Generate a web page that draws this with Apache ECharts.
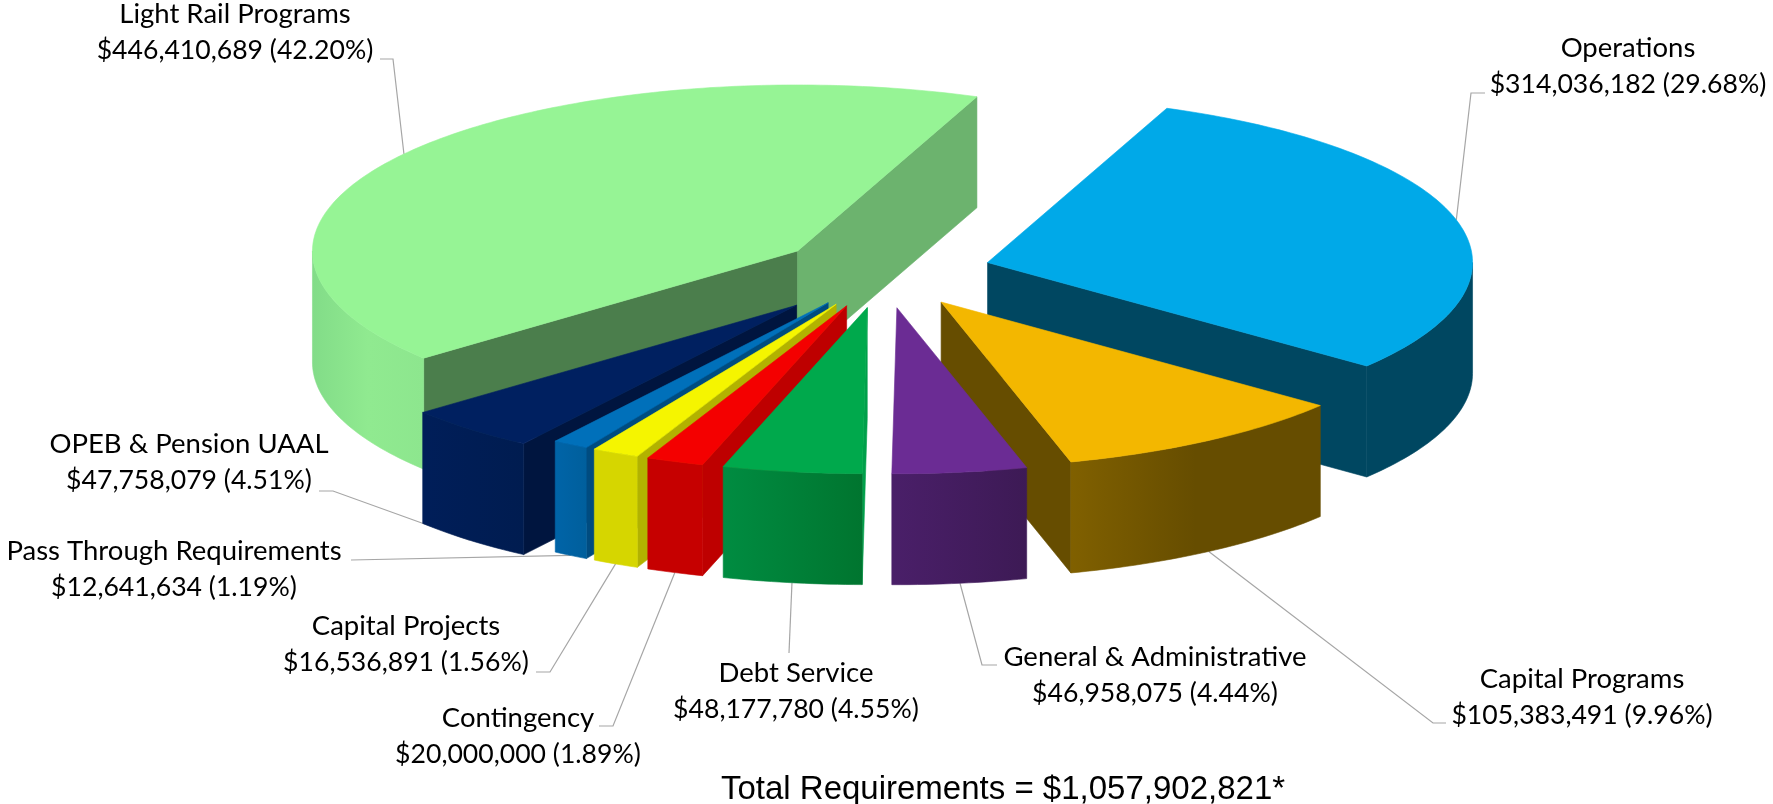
<!DOCTYPE html>
<html>
<head>
<meta charset="utf-8">
<title>Total Requirements</title>
<style>
  html, body { margin: 0; padding: 0; background: #fff; }
  #chart { width: 1773px; height: 804px; }
</style>
<script src="https://cdn.jsdelivr.net/npm/echarts@6/dist/echarts.min.js"></script>
</head>
<body>
<div id="chart"></div>
<script>
// Budget categories, clockwise from the Operations slice.
const categories = [
  'Operations', 'Capital Programs', 'General & Administrative', 'Debt Service',
  'Contingency', 'Capital Projects', 'Pass Through Requirements',
  'OPEB & Pension UAAL', 'Light Rail Programs'
];
const requirements = [
  314036182, 105383491, 46958075, 48177780,
  20000000, 16536891, 12641634,
  47758079, 446410689
];

// Pulled-out distance of each slice, as a fraction of the radius.
const explode = [0.223, 0.217, 0.217, 0.217, 0.217, 0.217, 0.217, 0.268, 0.217];

// Painter's order: back slices first, then the front row from the left.
const paintOrder = [8, 0, 1, 2, 7, 6, 5, 4, 3];

// Face colours per slice.
const topColors = ['#00A9E8', '#F3B700', '#6B2C94', '#00A94C', '#F40000', '#F5F500', '#0070BA', '#002060', '#96F495'];
const wallColors = [
  ['#004761', '#004761'], ['#806000', '#664D00', '#664D00'], ['#4A1F69', '#3D1A55'], ['#008C41', '#00752F'],
  ['#C60000', '#C60000'], ['#D6D600', '#D6D600'], ['#0064A8', '#005F9C'], ['#001E59', '#001C50'],
  ['#82DC88', '#90EA90', '#8DE68E']
];
const startFaceColors = ['#004761', '#664D00', '#4A1F69', '#00A04A', '#BE0000', '#B2B200', '#004C80', '#00153F', '#4B7E4C'];
const endFaceColors = ['#004761', '#664D00', '#4A1F69', '#00A04A', '#BE0000', '#B2B200', '#004C80', '#00153F', '#6CB36E'];

// Pie geometry on the page.
const pieCenter = [883, 272];
const radiusX = 485;
const radiusY = 166;
const depth = 111;
const startAngle = 21.7;
// Slight sideways lean of the near-left rim from the camera's perspective.
const rimLean = { size: 5, around: 212, spread: 30 };

// Label block centres and the bent part of each leader line.
const labelCenters = [
  [1628, 66], [1582, 697], [1155, 675], [796, 691],
  [518, 736], [406, 644], [174, 569], [189, 462], [235, 32]
];
const leaderPaths = [
  [[1471, 93], [1485, 93]], [[1433, 723], [1446, 723]], [[982, 665], [997, 665]], [[789, 653]],
  [[613, 726], [599, 726]], [[550, 672], [536, 672]], [[351, 560]], [[333, 491], [319, 491]], [[393, 59], [380, 59]]
];

const nameFont = '27.5px Lato, Carlito, sans-serif';
const amountFont = '26.6px Lato, Carlito, sans-serif';
const totalRequirements = requirements.reduce((a, b) => a + b, 0);

const money = v => '$' + v.toLocaleString('en-US');
const percent = v => (v / totalRequirements * 100).toFixed(2) + '%';

// Slice angles in degrees, clockwise from the top of the pie.
const spans = [];
requirements.reduce((from, v) => {
  const to = from + v / totalRequirements * 360;
  spans.push([from, to]);
  return to;
}, startAngle);

function onEllipse(origin, deg) {
  const a = deg * Math.PI / 180;
  return [origin[0] + radiusX * Math.sin(a), origin[1] - radiusY * Math.cos(a)];
}

function onRim(apex, deg, drop) {
  const p = onEllipse(apex, deg);
  const t = (deg - rimLean.around) / rimLean.spread;
  return [p[0] - rimLean.size * Math.exp(-t * t), p[1] + (drop || 0)];
}

function apexOf(i) {
  const mid = (spans[i][0] + spans[i][1]) / 2;
  return onEllipse(pieCenter, mid).map((p, k) => pieCenter[k] + (p - pieCenter[k]) * explode[i]);
}

function arcPoints(apex, from, to, drop) {
  const pts = [];
  const steps = Math.max(2, Math.ceil(to - from));
  for (let s = 0; s <= steps; s++) pts.push(onRim(apex, from + (to - from) * s / steps, drop));
  return pts;
}

function polygon(points, fill, z2) {
  return {
    type: 'polygon', z2, silent: true,
    shape: { points },
    style: { fill, stroke: fill, lineWidth: 0.6 }
  };
}

function gradient(stops) {
  return new echarts.graphic.LinearGradient(0, 0, 1, 0,
    stops.map((color, k) => ({ offset: k / (stops.length - 1), color })));
}

function renderSlice(params, api) {
  const i = api.value(0);
  const value = api.value(1);
  const [from, to] = spans[i];
  const apex = apexOf(i);
  const base = 100 + paintOrder.indexOf(i) * 10;
  const children = [];

  // Cut faces, only where they turn towards the viewer.
  const faceQuad = deg => {
    const rim = onRim(apex, deg);
    return [apex, rim, [rim[0], rim[1] + depth], [apex[0], apex[1] + depth]];
  };
  if (Math.cos((from - 90) * Math.PI / 180) < 0) children.push(polygon(faceQuad(from), startFaceColors[i], base));
  if (Math.cos((to + 90) * Math.PI / 180) < 0) children.push(polygon(faceQuad(to), endFaceColors[i], base + 1));

  // Outer wall over the front half of the rim.
  const lo = Math.max(from, 90);
  const hi = Math.min(to, 270);
  if (hi > lo) {
    const wall = arcPoints(apex, lo, hi, 0).concat(arcPoints(apex, lo, hi, depth).reverse());
    children.push(polygon(wall, gradient(wallColors[i]), base + 2));
  }

  // Top surface.
  children.push(polygon([apex].concat(arcPoints(apex, from, to, 0)), topColors[i], base + 3));

  // Leader line from the rim midpoint, running beneath the slices.
  const mid = (from + to) / 2;
  const isFront = Math.cos(mid * Math.PI / 180) < 0;
  const anchor = onRim(apex, mid, isFront ? depth : 0);
  children.push({
    type: 'polyline', z2: 1, silent: true,
    shape: { points: [anchor].concat(leaderPaths[i]) },
    style: { fill: null, stroke: '#A6A6A6', lineWidth: 1.2 }
  });

  // Category and amount.
  children.push({
    type: 'text', z2: 500, silent: true,
    x: labelCenters[i][0], y: labelCenters[i][1],
    style: {
      text: '{n|' + categories[i] + '}\n{v|' + money(value) + ' (' + percent(value) + ')}',
      fill: '#000', align: 'center', verticalAlign: 'middle',
      rich: {
        n: { font: nameFont, fill: '#000', lineHeight: 36 },
        v: { font: amountFont, fill: '#000', lineHeight: 36 }
      }
    }
  });
  return { type: 'group', children };
}

const chart = echarts.init(document.getElementById('chart'), null, { renderer: 'canvas' });
chart.setOption({
  animation: false,
  backgroundColor: '#fff',
  title: {
    text: 'Total Requirements = ' + money(totalRequirements) + '*',
    left: 998, top: 768, textAlign: 'center',
    textStyle: { fontFamily: '"Liberation Sans", Arial, sans-serif', fontSize: 33, fontWeight: 'normal', color: '#000' }
  },
  series: [{
    type: 'custom',
    coordinateSystem: 'none',
    renderItem: renderSlice,
    data: requirements.map((v, i) => ({ name: categories[i], value: [i, v] }))
  }]
});
</script>
</body>
</html>
